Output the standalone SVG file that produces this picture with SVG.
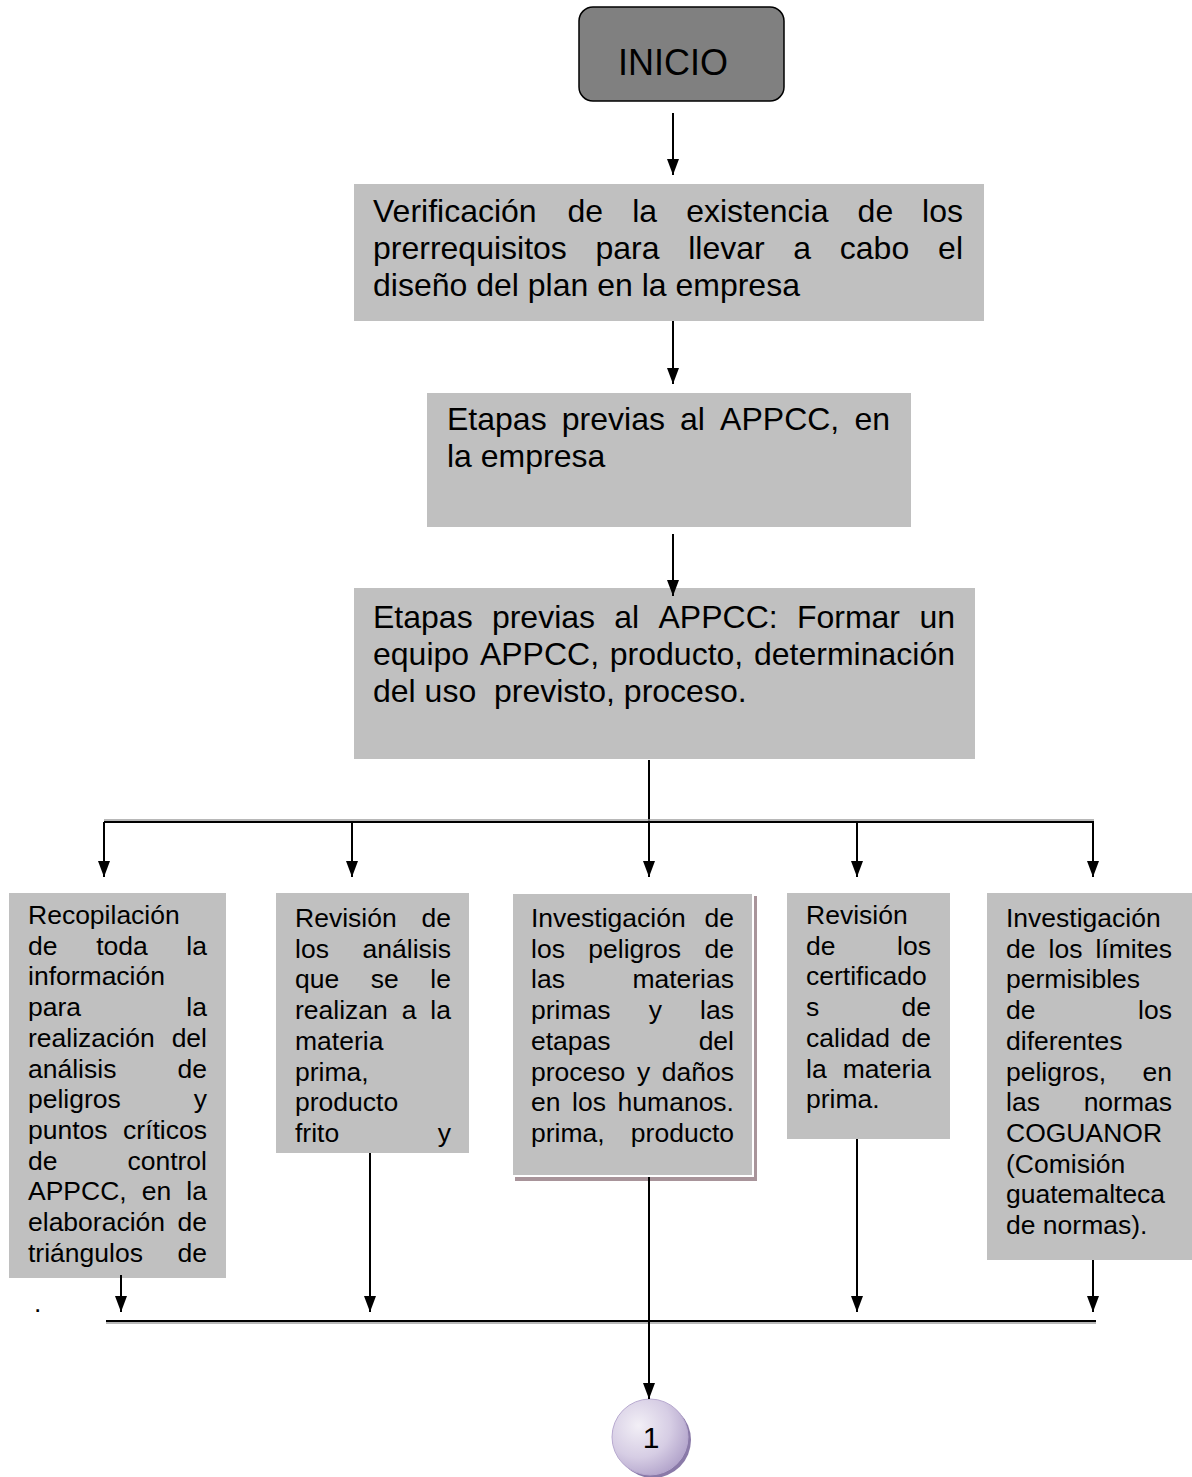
<svg xmlns="http://www.w3.org/2000/svg" width="1192" height="1477" viewBox="0 0 1192 1477">
<style>
  .box { fill: #c0c0c0; }
  .t32 { font-family: "Liberation Sans", Arial, sans-serif; font-size: 32px; fill: #000; }
  .t26 { font-family: "Liberation Sans", Arial, sans-serif; font-size: 26.5px; fill: #000; }
  .e { text-anchor: end; }
  .ln { stroke: #000; stroke-width: 2; fill: none; }
  .arr { stroke: #000; stroke-width: 2; fill: none; marker-end: url(#ah); }
  .sh { stroke: #a0a0a0; stroke-width: 1.5; fill: none; }
</style>
<defs>
  <marker id="ah" markerUnits="userSpaceOnUse" markerWidth="16" markerHeight="12" refX="16" refY="6" orient="auto">
    <path d="M0,0 L16,6 L0,12 Z" fill="#000"/>
  </marker>
  <radialGradient id="cg" cx="35%" cy="35%" r="70%">
    <stop offset="0" stop-color="#f2eff6"/>
    <stop offset="0.6" stop-color="#d6cde4"/>
    <stop offset="1" stop-color="#b4a6cc"/>
  </radialGradient>
</defs>

<g id="inicio">
  <rect x="579" y="7" width="205" height="94" rx="14" ry="14" fill="#808080" stroke="#000" stroke-width="1.5"/>
  <text x="673" y="75" text-anchor="middle" font-family="Liberation Sans, Arial, sans-serif" font-size="36">INICIO</text>
</g>

<g id="verificacion">
  <rect class="box" x="354" y="184" width="630" height="137"/>
  <text class="t32">
    <tspan x="373" y="222">Verificación</tspan><tspan x="567.5" y="222">de</tspan><tspan x="632.2" y="222">la</tspan><tspan x="686.2" y="222">existencia</tspan><tspan x="857.6" y="222">de</tspan>
  </text>
  <text class="t32 e" x="963" y="222">los</text>
  <text class="t32">
    <tspan x="373" y="259">prerrequisitos</tspan><tspan x="595.5" y="259">para</tspan><tspan x="688.2" y="259">llevar</tspan><tspan x="793.3" y="259">a</tspan><tspan x="839.8" y="259">cabo</tspan>
  </text>
  <text class="t32 e" x="963" y="259">el</text>
  <text class="t32" x="373" y="296">diseño del plan en la empresa</text>
</g>

<g id="etapas1">
  <rect class="box" x="427" y="393" width="484" height="134"/>
  <text class="t32">
    <tspan x="447" y="430">Etapas</tspan><tspan x="561.8" y="430">previas</tspan><tspan x="680" y="430">al</tspan><tspan x="720.1" y="430">APPCC,</tspan>
  </text>
  <text class="t32 e" x="890" y="430">en</text>
  <text class="t32" x="447" y="467">la empresa</text>
</g>

<g id="etapas2">
  <rect class="box" x="354" y="588" width="621" height="171"/>
  <text class="t32">
    <tspan x="373" y="628">Etapas</tspan><tspan x="491.9" y="628">previas</tspan><tspan x="614.3" y="628">al</tspan><tspan x="658.5" y="628">APPCC:</tspan><tspan x="796.9" y="628">Formar</tspan>
  </text>
  <text class="t32 e" x="955" y="628">un</text>
  <text class="t32">
    <tspan x="373" y="665">equipo</tspan><tspan x="479.9" y="665">APPCC,</tspan><tspan x="609.8" y="665">producto,</tspan>
  </text>
  <text class="t32 e" x="955" y="665">determinación</text>
  <text class="t32">
    <tspan x="373" y="702">del uso</tspan><tspan x="494" y="702">previsto, proceso.</tspan>
  </text>
</g>

<g id="recopilacion">
  <rect class="box" x="9" y="893" width="217" height="385"/>
  <text class="t26" x="28" y="924">Recopilación</text>
  <text class="t26"><tspan x="28" y="954.7">de</tspan><tspan x="96.2" y="954.7">toda</tspan></text>
  <text class="t26 e" x="207" y="954.7">la</text>
  <text class="t26" x="28" y="985.4">información</text>
  <text class="t26" x="28" y="1016.1">para</text>
  <text class="t26 e" x="207" y="1016.1">la</text>
  <text class="t26" x="28" y="1046.8">realización</text>
  <text class="t26 e" x="207" y="1046.8">del</text>
  <text class="t26" x="28" y="1077.5">análisis</text>
  <text class="t26 e" x="207" y="1077.5">de</text>
  <text class="t26" x="28" y="1108.2">peligros</text>
  <text class="t26 e" x="207" y="1108.2">y</text>
  <text class="t26" x="28" y="1138.9">puntos</text>
  <text class="t26 e" x="207" y="1138.9">críticos</text>
  <text class="t26" x="28" y="1169.6">de</text>
  <text class="t26 e" x="207" y="1169.6">control</text>
  <text class="t26"><tspan x="28" y="1200.3">APPCC,</tspan><tspan x="141.8" y="1200.3">en</tspan></text>
  <text class="t26 e" x="207" y="1200.3">la</text>
  <text class="t26" x="28" y="1231">elaboración</text>
  <text class="t26 e" x="207" y="1231">de</text>
  <text class="t26" x="28" y="1261.7">triángulos</text>
  <text class="t26 e" x="207" y="1261.7">de</text>
</g>

<text class="t26" x="34" y="1312">.</text>

<g id="revision-analisis">
  <rect class="box" x="276" y="893" width="193" height="260"/>
  <text class="t26" x="295" y="927">Revisión</text>
  <text class="t26 e" x="451" y="927">de</text>
  <text class="t26" x="295" y="957.7">los</text>
  <text class="t26 e" x="451" y="957.7">análisis</text>
  <text class="t26"><tspan x="295" y="988.4">que</tspan><tspan x="370.8" y="988.4">se</tspan></text>
  <text class="t26 e" x="451" y="988.4">le</text>
  <text class="t26"><tspan x="295" y="1019.1">realizan</tspan><tspan x="401.7" y="1019.1">a</tspan></text>
  <text class="t26 e" x="451" y="1019.1">la</text>
  <text class="t26" x="295" y="1049.8">materia</text>
  <text class="t26" x="295" y="1080.5">prima,</text>
  <text class="t26" x="295" y="1111.2">producto</text>
  <text class="t26" x="295" y="1141.9">frito</text>
  <text class="t26 e" x="451" y="1141.9">y</text>
</g>

<g id="investigacion-peligros">
  <rect x="515" y="896" width="242" height="285" fill="#a8949a"/>
  <rect class="box" x="512" y="893" width="241" height="283" stroke="#ffffff" stroke-width="2"/>
  <text class="t26" x="531" y="927">Investigación</text>
  <text class="t26 e" x="734" y="927">de</text>
  <text class="t26"><tspan x="531" y="957.7">los</tspan><tspan x="588.3" y="957.7">peligros</tspan></text>
  <text class="t26 e" x="734" y="957.7">de</text>
  <text class="t26" x="531" y="988.4">las</text>
  <text class="t26 e" x="734" y="988.4">materias</text>
  <text class="t26"><tspan x="531" y="1019.1">primas</tspan><tspan x="648.7" y="1019.1">y</tspan></text>
  <text class="t26 e" x="734" y="1019.1">las</text>
  <text class="t26" x="531" y="1049.8">etapas</text>
  <text class="t26 e" x="734" y="1049.8">del</text>
  <text class="t26"><tspan x="531" y="1080.5">proceso</tspan><tspan x="637" y="1080.5">y</tspan></text>
  <text class="t26 e" x="734" y="1080.5">daños</text>
  <text class="t26"><tspan x="531" y="1111.2">en</tspan><tspan x="572.1" y="1111.2">los</tspan></text>
  <text class="t26 e" x="734" y="1111.2">humanos.</text>
  <text class="t26" x="531" y="1141.9">prima,</text>
  <text class="t26 e" x="734" y="1141.9">producto</text>
</g>

<g id="revision-certificados">
  <rect class="box" x="787" y="893" width="163" height="246"/>
  <text class="t26" x="806" y="924">Revisión</text>
  <text class="t26" x="806" y="954.7">de</text>
  <text class="t26 e" x="931" y="954.7">los</text>
  <text class="t26" x="806" y="985.4">certificado</text>
  <text class="t26" x="806" y="1016.1">s</text>
  <text class="t26 e" x="931" y="1016.1">de</text>
  <text class="t26" x="806" y="1046.8">calidad</text>
  <text class="t26 e" x="931" y="1046.8">de</text>
  <text class="t26" x="806" y="1077.5">la</text>
  <text class="t26 e" x="931" y="1077.5">materia</text>
  <text class="t26" x="806" y="1108.2">prima.</text>
</g>

<g id="investigacion-limites">
  <rect class="box" x="987" y="893" width="205" height="367"/>
  <text class="t26" x="1006" y="927">Investigación</text>
  <text class="t26"><tspan x="1006" y="957.7">de</tspan><tspan x="1048.5" y="957.7">los</tspan></text>
  <text class="t26 e" x="1172" y="957.7">límites</text>
  <text class="t26" x="1006" y="988.4">permisibles</text>
  <text class="t26" x="1006" y="1019.1">de</text>
  <text class="t26 e" x="1172" y="1019.1">los</text>
  <text class="t26" x="1006" y="1049.8">diferentes</text>
  <text class="t26" x="1006" y="1080.5">peligros,</text>
  <text class="t26 e" x="1172" y="1080.5">en</text>
  <text class="t26" x="1006" y="1111.2">las</text>
  <text class="t26 e" x="1172" y="1111.2">normas</text>
  <text class="t26" x="1006" y="1141.9">COGUANOR</text>
  <text class="t26" x="1006" y="1172.6">(Comisión</text>
  <text class="t26" x="1006" y="1203.3">guatemalteca</text>
  <text class="t26" x="1006" y="1234">de normas).</text>
</g>

<g id="connector-1">
  <circle cx="653" cy="1440" r="38" fill="#8a7aa8"/>
  <circle cx="650" cy="1437" r="38" fill="url(#cg)" stroke="#b8aad0" stroke-width="1"/>
  <text x="651" y="1448" text-anchor="middle" font-family="Liberation Sans, Arial, sans-serif" font-size="30">1</text>
</g>

<g id="connectors">
  <line class="arr" x1="673" y1="113" x2="673" y2="175"/>
  <line class="arr" x1="673" y1="321" x2="673" y2="384"/>
  <line class="arr" x1="673" y1="534" x2="673" y2="596"/>
  <line class="ln" x1="649" y1="760" x2="649" y2="822"/>
  <line class="sh" x1="104" y1="820" x2="1094" y2="820"/>
  <line class="ln" x1="104" y1="822" x2="1094" y2="822"/>
  <line class="arr" x1="104" y1="822" x2="104" y2="877"/>
  <line class="arr" x1="352" y1="822" x2="352" y2="877"/>
  <line class="arr" x1="649" y1="822" x2="649" y2="877"/>
  <line class="arr" x1="857" y1="822" x2="857" y2="877"/>
  <line class="arr" x1="1093" y1="822" x2="1093" y2="877"/>
  <line class="arr" x1="121" y1="1275" x2="121" y2="1312"/>
  <line class="arr" x1="370" y1="1153" x2="370" y2="1312"/>
  <line class="arr" x1="857" y1="1139" x2="857" y2="1312"/>
  <line class="arr" x1="1093" y1="1260" x2="1093" y2="1312"/>
  <line class="sh" x1="106" y1="1323" x2="1096" y2="1323"/>
  <line class="ln" x1="106" y1="1321" x2="1096" y2="1321"/>
  <line class="arr" x1="649" y1="1177" x2="649" y2="1399"/>
</g>
</svg>
